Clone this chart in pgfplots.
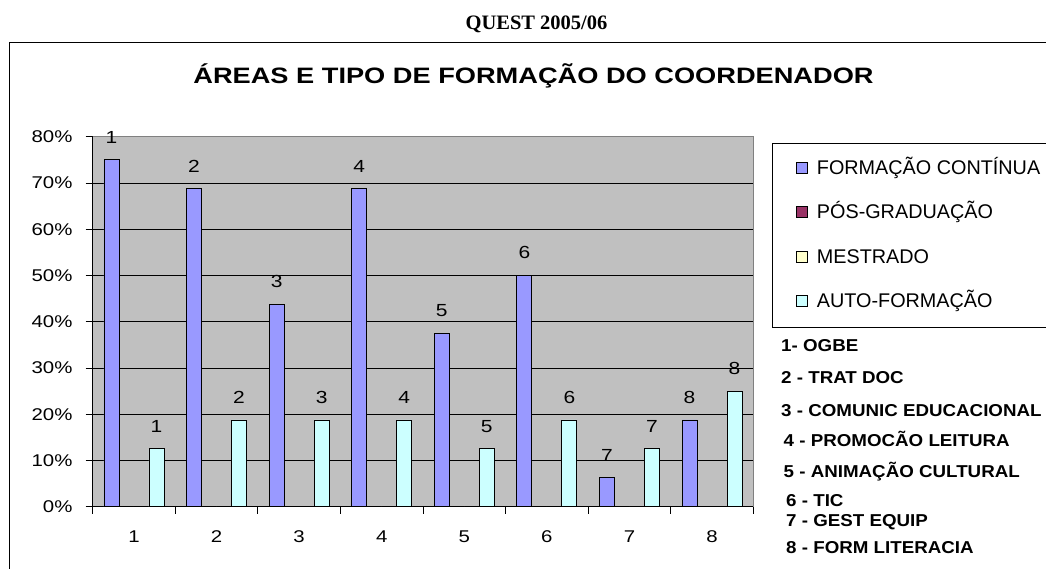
\documentclass[border=0pt]{standalone}
\usepackage{fontspec}
\setmainfont{Liberation Sans}
\newfontfamily\timesfont{Liberation Serif}
\usepackage{pgfplots}
\pgfplotsset{compat=1.18}
\definecolor{fc}{HTML}{9999FF}
\definecolor{pg}{HTML}{993366}
\definecolor{me}{HTML}{FFFFCC}
\definecolor{af}{HTML}{CCFFFF}
\definecolor{plotgray}{HTML}{C0C0C0}
\definecolor{bordergray}{HTML}{808080}
\newcommand\lblfont{\fontsize{17.5}{20}\selectfont}
\begin{document}
\begin{tikzpicture}
\useasboundingbox (0pt,0pt) rectangle (1046pt,568pt);
\clip (0pt,0pt) rectangle (1046pt,568pt);
% outer chart border
\draw[line width=1.3pt] (9.5pt,-10pt) rectangle (1070pt,525.7pt);
\node[font=\timesfont\bfseries\fontsize{20.5}{24}\selectfont, anchor=base, inner sep=0pt] at (536.5pt,538.7pt) {QUEST 2005/06};
\node[font=\bfseries\fontsize{22.3}{26}\selectfont, anchor=base, inner sep=0pt, xscale=1.22] at (533.5pt,484pt) {ÁREAS E TIPO DE FORMAÇÃO DO COORDENADOR};
\begin{axis}[
  at={(92.7pt,61.3pt)}, anchor=south west,
  scale only axis, width=660.6pt, height=370pt,
  xmin=0.5, xmax=8.5, ymin=0, ymax=80,
  clip=false,
  /pgf/number format/assume math mode=true,
  axis background/.style={fill=plotgray},
  axis x line*=bottom, axis y line*=left,
  axis line style={black, line width=0.9pt, -},
  ytick={0,10,...,80},
  yticklabels={0\%,10\%,20\%,30\%,40\%,50\%,60\%,70\%,80\%},
  xtick={1,...,8},
  xticklabels={1,2,3,4,5,6,7,8},
  minor xtick={0.5,1.5,...,8.5},
  tick align=outside,
  major tick length=7pt, minor tick length=7pt,
  tick style={black, line width=0.9pt},
  major x tick style={draw=none},
  ymajorgrids, major grid style={black, line width=0.8pt},
  tick label style={font=\fontsize{17}{20}\selectfont},
  yticklabel style={anchor=east, inner sep=0pt, xshift=-13pt, xscale=1.2},
  xticklabel style={anchor=base, inner sep=0pt, yshift=-29pt, xscale=1.2},
  bar width=0.1816,
  point meta=x,
  nodes near coords style={font=\lblfont, anchor=base, inner sep=0pt, yshift=16.6pt, xscale=1.2},
  legend style={at={(1.0279,0.9822)}, anchor=north west, draw=black, line width=0.8pt, fill=white,
    font=\fontsize{19.8}{22}\selectfont, inner xsep=24pt, inner ysep=15.5pt, row sep=25pt,
    nodes={inner sep=0pt, text height=15pt, text depth=4.5pt},
    /tikz/every odd column/.append style={column sep=9pt}},
  legend cell align=left,
  legend image code/.code={\draw[#1, line width=0.8pt] (0pt,-4pt) rectangle (11pt,7pt);},
]
\addplot[ybar, fill=fc, draw=black, line width=0.8pt, bar shift=-0.2724, nodes near coords,
  every node near coord/.append style={xshift=-18.75pt, font=\lblfont}]
  coordinates {(1,75) (2,68.75) (3,43.75) (4,68.75) (5,37.5) (6,50) (7,6.25) (8,18.75)};
\addlegendentry{FORMAÇÃO CONTÍNUA}
\addplot[ybar, fill=pg, draw=black, line width=0.8pt, bar shift=-0.0908]
  coordinates {(1,0) (2,0) (3,0) (4,0) (5,0) (6,0) (7,0) (8,0)};
\addlegendentry{PÓS-GRADUAÇÃO}
\addplot[ybar, fill=me, draw=black, line width=0.8pt, bar shift=0.0908]
  coordinates {(1,0) (2,0) (3,0) (4,0) (5,0) (6,0) (7,0) (8,0)};
\addlegendentry{MESTRADO}
\addplot[ybar, fill=af, draw=black, line width=0.8pt, bar shift=0.2724, nodes near coords,
  every node near coord/.append style={xshift=18.75pt, font=\lblfont}]
  coordinates {(1,12.5) (2,18.75) (3,18.75) (4,18.75) (5,12.5) (6,18.75) (7,12.5) (8,25)};
\addlegendentry{AUTO-FORMAÇÃO}
\draw[bordergray, line width=0.9pt] (rel axis cs:0,1) -- (rel axis cs:1,1) -- (rel axis cs:1,0);
\end{axis}
\begin{scope}[every node/.style={font=\bfseries\fontsize{17.2}{20}\selectfont, anchor=base west, inner sep=0pt, xscale=1.09}]
\node at (781pt,216.1pt) {1- OGBE};
\node at (781pt,184.1pt) {2 - TRAT DOC};
\node at (781pt,151.8pt) {3 - COMUNIC EDUCACIONAL};
\node at (783.5pt,121.1pt) {4 - PROMOCÃO LEITURA};
\node at (783.5pt,90.1pt) {5 - ANIMAÇÃO CULTURAL};
\node at (786pt,61.1pt) {6 - TIC};
\node at (786pt,41.1pt) {7 - GEST EQUIP};
\node at (786pt,14.5pt) {8 - FORM LITERACIA};
\end{scope}
\end{tikzpicture}
\end{document}
